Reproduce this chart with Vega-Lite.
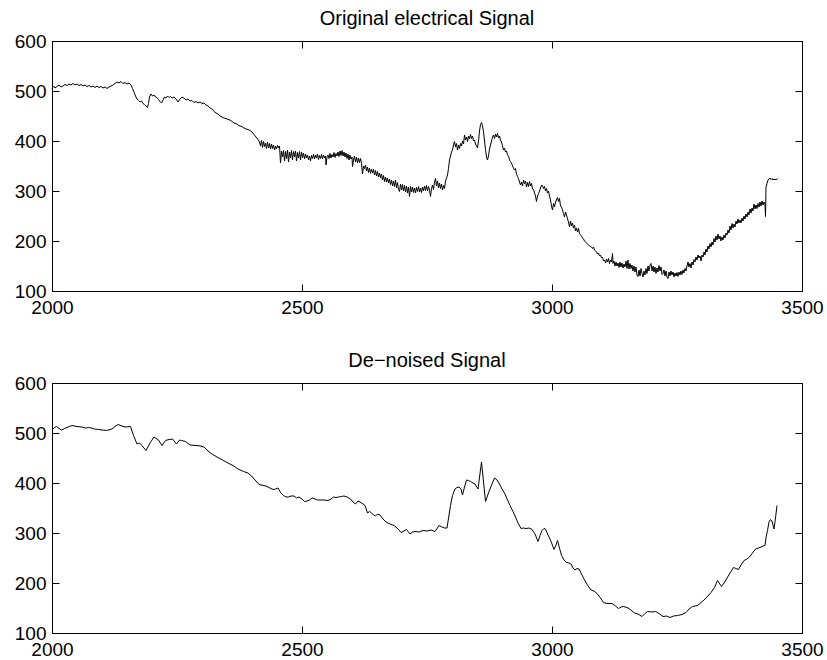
{
"$schema":"https://vega.github.io/schema/vega-lite/v6.json",
"background":"white",
"padding":{"left":13,"top":8,"right":10,"bottom":2},
"spacing":32,
"config":{
"view":{"stroke":"black","strokeWidth":1},
"font":"Liberation Sans",
"axis":{"domainColor":"black","tickColor":"black","labelColor":"black","labelFont":"Liberation Sans","labelFontSize":19,"tickSize":-7,"grid":false,"labelFlush":false,"labelOverlap":false,"title":null,"domainWidth":1,"tickWidth":1,"format":"d"},
"title":{"font":"Liberation Sans","fontSize":20,"fontWeight":"normal","color":"black","offset":3,"baseline":"alphabetic"}
},
"datasets":{
"orig":[
{"x":2000,"y":505},{"x":2003,"y":510},{"x":2006,"y":506},{"x":2010,"y":509},{"x":2014,"y":512},{"x":2018,"y":508},{"x":2022,"y":510},{"x":2026,"y":513},{"x":2030,"y":511},{"x":2034,"y":514},{"x":2038,"y":512},{"x":2042,"y":515},{"x":2046,"y":512},{"x":2050,"y":514},{"x":2054,"y":511},{"x":2058,"y":513},{"x":2062,"y":510},{"x":2066,"y":512},{"x":2070,"y":509},{"x":2074,"y":511},{"x":2078,"y":508},{"x":2082,"y":510},{"x":2086,"y":507},{"x":2090,"y":510},{"x":2094,"y":507},{"x":2098,"y":509},{"x":2102,"y":506},{"x":2106,"y":508},{"x":2110,"y":505},{"x":2114,"y":508},{"x":2118,"y":510},{"x":2122,"y":512},{"x":2126,"y":515},{"x":2130,"y":518},{"x":2134,"y":516},{"x":2138,"y":519},{"x":2142,"y":515},{"x":2146,"y":517},{"x":2150,"y":514},{"x":2154,"y":516},{"x":2158,"y":512},{"x":2161,"y":505},{"x":2164,"y":498},{"x":2167,"y":490},{"x":2170,"y":484},{"x":2173,"y":481},{"x":2176,"y":478},{"x":2179,"y":480},{"x":2182,"y":475},{"x":2185,"y":473},{"x":2188,"y":470},{"x":2191,"y":467},{"x":2193,"y":475},{"x":2195,"y":488},{"x":2198,"y":494},{"x":2201,"y":490},{"x":2204,"y":492},{"x":2207,"y":488},{"x":2210,"y":487},{"x":2213,"y":483},{"x":2216,"y":479},{"x":2219,"y":476},{"x":2222,"y":482},{"x":2225,"y":488},{"x":2228,"y":486},{"x":2231,"y":490},{"x":2234,"y":487},{"x":2237,"y":489},{"x":2240,"y":486},{"x":2244,"y":488},{"x":2248,"y":484},{"x":2252,"y":478},{"x":2256,"y":484},{"x":2260,"y":488},{"x":2264,"y":486},{"x":2268,"y":482},{"x":2272,"y":484},{"x":2276,"y":480},{"x":2280,"y":481},{"x":2284,"y":477},{"x":2288,"y":479},{"x":2292,"y":476},{"x":2296,"y":478},{"x":2300,"y":475},{"x":2304,"y":476},{"x":2308,"y":472},{"x":2312,"y":470},{"x":2316,"y":466},{"x":2320,"y":464},{"x":2324,"y":459},{"x":2328,"y":456},{"x":2332,"y":454},{"x":2336,"y":450},{"x":2340,"y":448},{"x":2344,"y":446},{"x":2348,"y":445},{"x":2352,"y":443},{"x":2356,"y":442},{"x":2360,"y":439},{"x":2364,"y":436},{"x":2368,"y":435},{"x":2372,"y":432},{"x":2376,"y":430},{"x":2380,"y":429},{"x":2384,"y":426},{"x":2388,"y":424},{"x":2392,"y":423},{"x":2396,"y":421},{"x":2400,"y":418},{"x":2404,"y":413},{"x":2408,"y":408},{"x":2412,"y":403},
{"x":2415,"y":398},{"x":2417,"y":390},{"x":2419,"y":401},{"x":2421,"y":387},{"x":2423,"y":399},{"x":2425,"y":389},{"x":2427,"y":396},{"x":2429,"y":385},{"x":2431,"y":398},{"x":2433,"y":386},{"x":2435,"y":395},{"x":2437,"y":384},{"x":2439,"y":394},{"x":2441,"y":385},{"x":2443,"y":392},{"x":2445,"y":382},{"x":2447,"y":390},{"x":2449,"y":384},{"x":2451,"y":391},{"x":2453,"y":386},{"x":2455,"y":390},{"x":2457,"y":356},{"x":2459,"y":380},{"x":2461,"y":368},{"x":2463,"y":381},{"x":2465,"y":360},{"x":2467,"y":379},{"x":2469,"y":365},{"x":2471,"y":382},{"x":2473,"y":358},{"x":2475,"y":378},{"x":2477,"y":366},{"x":2479,"y":381},{"x":2481,"y":362},{"x":2483,"y":379},{"x":2485,"y":368},{"x":2487,"y":380},{"x":2489,"y":360},{"x":2491,"y":377},{"x":2493,"y":366},{"x":2495,"y":379},{"x":2497,"y":362},{"x":2499,"y":378},{"x":2501,"y":367},{"x":2503,"y":376},{"x":2505,"y":364},
{"x":2507,"y":374},{"x":2509,"y":366},{"x":2511,"y":372},{"x":2513,"y":362},{"x":2515,"y":370},{"x":2517,"y":360},{"x":2519,"y":371},{"x":2521,"y":365},{"x":2523,"y":373},{"x":2525,"y":364},{"x":2527,"y":372},{"x":2529,"y":366},{"x":2531,"y":374},{"x":2533,"y":363},{"x":2535,"y":371},{"x":2537,"y":365},{"x":2539,"y":373},{"x":2541,"y":364},{"x":2543,"y":372},{"x":2545,"y":366},{"x":2547,"y":370},{"x":2548,"y":352},{"x":2550,"y":368},{"x":2552,"y":372},{"x":2554,"y":365},{"x":2556,"y":375},{"x":2558,"y":366},{"x":2560,"y":373},{"x":2562,"y":368},{"x":2564,"y":377},{"x":2566,"y":367},{"x":2568,"y":375},{"x":2570,"y":370},{"x":2572,"y":378},{"x":2574,"y":369},{"x":2576,"y":380},{"x":2578,"y":371},{"x":2580,"y":381},{"x":2582,"y":370},{"x":2584,"y":378},{"x":2586,"y":368},{"x":2588,"y":376},{"x":2590,"y":365},{"x":2592,"y":374},{"x":2594,"y":362},{"x":2596,"y":372},{"x":2598,"y":364},{"x":2600,"y":368},{"x":2601,"y":349},{"x":2603,"y":362},{"x":2605,"y":370},{"x":2607,"y":358},{"x":2609,"y":367},{"x":2611,"y":356},{"x":2613,"y":366},{"x":2615,"y":357},{"x":2617,"y":365},{"x":2619,"y":355},{"x":2621,"y":334},{"x":2623,"y":350},{"x":2625,"y":345},{"x":2627,"y":352},{"x":2629,"y":340},{"x":2631,"y":348},{"x":2633,"y":337},{"x":2635,"y":346},{"x":2637,"y":335},{"x":2639,"y":344},{"x":2641,"y":336},{"x":2643,"y":343},{"x":2645,"y":332},{"x":2647,"y":341},{"x":2649,"y":330},{"x":2651,"y":339},{"x":2653,"y":328},{"x":2655,"y":336},{"x":2657,"y":326},{"x":2659,"y":334},{"x":2661,"y":322},{"x":2663,"y":331},{"x":2665,"y":319},{"x":2667,"y":328},{"x":2669,"y":318},{"x":2671,"y":326},{"x":2673,"y":316},{"x":2675,"y":324},{"x":2677,"y":313},{"x":2679,"y":322},{"x":2681,"y":310},{"x":2683,"y":320},{"x":2685,"y":309},{"x":2687,"y":322},{"x":2689,"y":306},{"x":2691,"y":317},{"x":2693,"y":303},{"x":2695,"y":299},{"x":2697,"y":314},{"x":2699,"y":302},{"x":2701,"y":313},{"x":2703,"y":300},{"x":2705,"y":311},{"x":2707,"y":298},{"x":2709,"y":310},{"x":2711,"y":296},{"x":2713,"y":308},{"x":2715,"y":289},{"x":2717,"y":309},{"x":2719,"y":298},{"x":2721,"y":308},{"x":2723,"y":297},{"x":2725,"y":306},{"x":2727,"y":296},{"x":2729,"y":307},{"x":2731,"y":299},{"x":2733,"y":309},{"x":2735,"y":298},{"x":2737,"y":306},{"x":2739,"y":297},{"x":2741,"y":308},{"x":2743,"y":300},{"x":2745,"y":310},{"x":2747,"y":301},{"x":2749,"y":311},{"x":2751,"y":300},{"x":2753,"y":309},{"x":2755,"y":302},{"x":2757,"y":289},{"x":2759,"y":305},{"x":2761,"y":312},{"x":2763,"y":303},{"x":2765,"y":318},{"x":2767,"y":325},{"x":2769,"y":310},{"x":2771,"y":320},{"x":2773,"y":306},{"x":2775,"y":316},{"x":2777,"y":305},{"x":2779,"y":314},{"x":2781,"y":302},{"x":2783,"y":311},{"x":2785,"y":305},{"x":2787,"y":320},{"x":2789,"y":326},{"x":2791,"y":332},{"x":2793,"y":345},{"x":2795,"y":362},{"x":2797,"y":370},{"x":2799,"y":378},{"x":2801,"y":382},{"x":2803,"y":392},{"x":2805,"y":399},{"x":2807,"y":388},{"x":2809,"y":395},{"x":2811,"y":382},{"x":2813,"y":392},{"x":2815,"y":385},{"x":2817,"y":395},{"x":2819,"y":390},{"x":2821,"y":400},{"x":2823,"y":394},{"x":2825,"y":412},{"x":2827,"y":402},{"x":2829,"y":408},{"x":2831,"y":399},{"x":2833,"y":410},{"x":2835,"y":404},{"x":2837,"y":413},{"x":2839,"y":405},{"x":2841,"y":410},{"x":2843,"y":400},{"x":2845,"y":402},{"x":2847,"y":394},{"x":2849,"y":390},{"x":2851,"y":386},{"x":2853,"y":400},{"x":2855,"y":420},{"x":2857,"y":433},{"x":2859,"y":437},{"x":2861,"y":430},{"x":2863,"y":419},{"x":2865,"y":400},{"x":2867,"y":383},{"x":2869,"y":368},{"x":2871,"y":362},{"x":2873,"y":370},{"x":2875,"y":384},{"x":2877,"y":392},{"x":2879,"y":400},{"x":2881,"y":408},{"x":2883,"y":412},{"x":2885,"y":405},{"x":2887,"y":414},{"x":2889,"y":408},{"x":2891,"y":415},{"x":2893,"y":406},{"x":2895,"y":410},{"x":2897,"y":402},{"x":2899,"y":398},{"x":2901,"y":390},{"x":2903,"y":382},{"x":2905,"y":386},{"x":2907,"y":378},{"x":2909,"y":380},{"x":2911,"y":372},{"x":2913,"y":370},{"x":2915,"y":362},{"x":2917,"y":359},{"x":2919,"y":356},{"x":2921,"y":350},{"x":2923,"y":346},{"x":2925,"y":342},{"x":2927,"y":345},{"x":2929,"y":334},{"x":2931,"y":329},{"x":2933,"y":325},{"x":2935,"y":318},{"x":2937,"y":312},{"x":2939,"y":318},{"x":2941,"y":310},{"x":2943,"y":322},{"x":2945,"y":315},{"x":2947,"y":320},{"x":2949,"y":308},{"x":2951,"y":317},{"x":2953,"y":309},{"x":2955,"y":319},{"x":2957,"y":310},{"x":2959,"y":315},{"x":2961,"y":304},{"x":2963,"y":303},{"x":2965,"y":296},{"x":2967,"y":290},{"x":2969,"y":279},{"x":2971,"y":290},{"x":2973,"y":295},{"x":2975,"y":300},{"x":2977,"y":306},{"x":2979,"y":312},{"x":2981,"y":310},{"x":2983,"y":305},{"x":2985,"y":309},{"x":2987,"y":300},{"x":2989,"y":305},{"x":2991,"y":296},{"x":2993,"y":300},{"x":2995,"y":290},{"x":2997,"y":282},{"x":2999,"y":270},{"x":3001,"y":262},{"x":3003,"y":275},{"x":3005,"y":268},{"x":3007,"y":278},{"x":3009,"y":282},{"x":3011,"y":287},{"x":3013,"y":279},{"x":3015,"y":285},{"x":3017,"y":270},{"x":3019,"y":268},{"x":3021,"y":262},{"x":3023,"y":255},{"x":3025,"y":248},{"x":3027,"y":258},{"x":3029,"y":252},{"x":3031,"y":244},{"x":3033,"y":238},{"x":3035,"y":228},{"x":3037,"y":240},{"x":3039,"y":230},{"x":3041,"y":236},{"x":3043,"y":226},{"x":3045,"y":232},{"x":3047,"y":220},{"x":3049,"y":226},{"x":3051,"y":218},{"x":3053,"y":225},{"x":3055,"y":215},{"x":3057,"y":212},{"x":3059,"y":210},{"x":3061,"y":206},{"x":3063,"y":204},{"x":3065,"y":200},{"x":3067,"y":198},{"x":3069,"y":196},{"x":3071,"y":194},{"x":3073,"y":192},{"x":3075,"y":190},{"x":3078,"y":189},{"x":3081,"y":185},{"x":3083,"y":188},{"x":3085,"y":182},{"x":3087,"y":180},{"x":3089,"y":178},{"x":3091,"y":174},{"x":3093,"y":176},{"x":3095,"y":170},{"x":3097,"y":172},{"x":3099,"y":166},{"x":3101,"y":168},{"x":3103,"y":160},{"x":3105,"y":162},{"x":3107,"y":156},{"x":3109,"y":164},{"x":3111,"y":158},{"x":3113,"y":165},{"x":3115,"y":155},{"x":3117,"y":162},{"x":3119,"y":158},{"x":3121,"y":175},{"x":3122,"y":155},{"x":3124,"y":160},{"x":3126,"y":150},{"x":3128,"y":158},{"x":3130,"y":150},{"x":3132,"y":156},{"x":3134,"y":147},{"x":3136,"y":158},{"x":3138,"y":148},{"x":3140,"y":156},{"x":3142,"y":146},{"x":3144,"y":154},{"x":3146,"y":148},{"x":3148,"y":160},{"x":3150,"y":145},{"x":3152,"y":162},{"x":3154,"y":144},{"x":3156,"y":155},{"x":3158,"y":145},{"x":3160,"y":152},{"x":3162,"y":140},{"x":3164,"y":150},{"x":3166,"y":138},{"x":3168,"y":148},{"x":3170,"y":132},{"x":3172,"y":129},{"x":3174,"y":142},{"x":3176,"y":130},{"x":3178,"y":145},{"x":3180,"y":135},{"x":3182,"y":128},{"x":3184,"y":140},{"x":3186,"y":132},{"x":3188,"y":145},{"x":3190,"y":135},{"x":3192,"y":150},{"x":3194,"y":140},{"x":3196,"y":152},{"x":3198,"y":155},{"x":3200,"y":140},{"x":3202,"y":150},{"x":3204,"y":138},{"x":3206,"y":148},{"x":3208,"y":135},{"x":3210,"y":146},{"x":3212,"y":138},{"x":3214,"y":151},{"x":3216,"y":140},{"x":3218,"y":148},{"x":3220,"y":133},{"x":3222,"y":135},{"x":3224,"y":142},{"x":3226,"y":130},{"x":3228,"y":140},{"x":3230,"y":128},{"x":3232,"y":125},{"x":3234,"y":138},{"x":3236,"y":130},{"x":3238,"y":140},{"x":3240,"y":132},{"x":3242,"y":138},{"x":3244,"y":128},{"x":3246,"y":136},{"x":3248,"y":130},{"x":3250,"y":137},{"x":3252,"y":129},{"x":3254,"y":138},{"x":3256,"y":132},{"x":3258,"y":140},{"x":3260,"y":133},{"x":3262,"y":142},{"x":3264,"y":136},{"x":3266,"y":145},{"x":3268,"y":140},{"x":3270,"y":150},{"x":3272,"y":158},{"x":3274,"y":148},{"x":3276,"y":155},{"x":3278,"y":146},{"x":3280,"y":158},{"x":3282,"y":152},{"x":3284,"y":163},{"x":3286,"y":158},{"x":3288,"y":168},{"x":3290,"y":162},{"x":3292,"y":172},{"x":3294,"y":166},{"x":3296,"y":170},{"x":3298,"y":160},{"x":3300,"y":172},{"x":3302,"y":168},{"x":3304,"y":178},{"x":3306,"y":172},{"x":3308,"y":184},{"x":3310,"y":178},{"x":3312,"y":190},{"x":3314,"y":184},{"x":3316,"y":195},{"x":3318,"y":188},{"x":3320,"y":198},{"x":3322,"y":192},{"x":3324,"y":205},{"x":3326,"y":198},{"x":3328,"y":210},{"x":3330,"y":202},{"x":3332,"y":214},{"x":3334,"y":204},{"x":3336,"y":210},{"x":3338,"y":200},{"x":3340,"y":208},{"x":3342,"y":202},{"x":3344,"y":212},{"x":3346,"y":206},{"x":3348,"y":216},{"x":3350,"y":212},{"x":3352,"y":222},{"x":3354,"y":216},{"x":3356,"y":230},{"x":3358,"y":222},{"x":3360,"y":235},{"x":3362,"y":226},{"x":3364,"y":234},{"x":3366,"y":228},{"x":3368,"y":240},{"x":3370,"y":234},{"x":3372,"y":244},{"x":3374,"y":236},{"x":3376,"y":242},{"x":3378,"y":236},{"x":3380,"y":246},{"x":3382,"y":240},{"x":3384,"y":250},{"x":3386,"y":244},{"x":3388,"y":254},{"x":3390,"y":248},{"x":3392,"y":258},{"x":3394,"y":252},{"x":3396,"y":264},{"x":3398,"y":256},{"x":3400,"y":266},{"x":3402,"y":260},{"x":3404,"y":274},{"x":3406,"y":264},{"x":3408,"y":272},{"x":3410,"y":265},{"x":3412,"y":275},{"x":3414,"y":268},{"x":3416,"y":278},{"x":3418,"y":270},{"x":3420,"y":280},{"x":3422,"y":272},{"x":3424,"y":278},{"x":3426,"y":274},{"x":3427,"y":249},{"x":3428,"y":308},{"x":3430,"y":315},{"x":3432,"y":322},{"x":3434,"y":324},{"x":3436,"y":326},{"x":3438,"y":323},{"x":3440,"y":325},{"x":3442,"y":322},{"x":3444,"y":324},{"x":3446,"y":322},{"x":3448,"y":324},{"x":3450,"y":323},{"x":3452,"y":325}
],
"den":[
{"x":2000,"y":506},{"x":2005,"y":511},{"x":2009,"y":513},{"x":2014,"y":509},{"x":2019,"y":506},{"x":2025,"y":509},{"x":2032,"y":512},{"x":2040,"y":515},{"x":2050,"y":513},{"x":2060,"y":512},{"x":2067,"y":510},{"x":2075,"y":511},{"x":2085,"y":508},{"x":2093,"y":507},{"x":2100,"y":506},{"x":2109,"y":505},{"x":2120,"y":508},{"x":2126,"y":513},{"x":2132,"y":517},{"x":2140,"y":514},{"x":2146,"y":512},{"x":2157,"y":513},{"x":2163,"y":495},{"x":2170,"y":478},{"x":2175,"y":480},{"x":2178,"y":477},{"x":2188,"y":465},{"x":2196,"y":480},{"x":2204,"y":492},{"x":2213,"y":486},{"x":2220,"y":475},{"x":2227,"y":485},{"x":2234,"y":487},{"x":2241,"y":488},{"x":2249,"y":478},{"x":2255,"y":486},{"x":2259,"y":485},{"x":2267,"y":483},{"x":2276,"y":476},{"x":2288,"y":475},{"x":2298,"y":474},{"x":2304,"y":472},{"x":2312,"y":464},{"x":2320,"y":458},{"x":2330,"y":452},{"x":2341,"y":446},{"x":2352,"y":440},{"x":2362,"y":435},{"x":2372,"y":428},{"x":2383,"y":423},{"x":2392,"y":420},{"x":2399,"y":414},{"x":2406,"y":406},{"x":2413,"y":398},{"x":2418,"y":396},{"x":2424,"y":395},{"x":2430,"y":393},{"x":2436,"y":390},{"x":2442,"y":387},{"x":2447,"y":388},{"x":2452,"y":390},{"x":2458,"y":380},{"x":2463,"y":375},{"x":2468,"y":372},{"x":2473,"y":372},{"x":2478,"y":374},{"x":2484,"y":374},{"x":2489,"y":370},{"x":2494,"y":372},{"x":2500,"y":368},{"x":2505,"y":363},{"x":2510,"y":364},{"x":2515,"y":366},{"x":2520,"y":370},{"x":2526,"y":368},{"x":2531,"y":366},{"x":2536,"y":366},{"x":2544,"y":366},{"x":2552,"y":365},{"x":2558,"y":368},{"x":2563,"y":372},{"x":2568,"y":371},{"x":2573,"y":372},{"x":2579,"y":373},{"x":2584,"y":374},{"x":2590,"y":372},{"x":2597,"y":368},{"x":2602,"y":362},{"x":2607,"y":358},{"x":2612,"y":364},{"x":2616,"y":362},{"x":2622,"y":358},{"x":2626,"y":355},{"x":2631,"y":340},{"x":2635,"y":343},{"x":2639,"y":340},{"x":2643,"y":336},{"x":2647,"y":334},{"x":2651,"y":338},{"x":2656,"y":336},{"x":2662,"y":328},{"x":2668,"y":322},{"x":2676,"y":318},{"x":2684,"y":315},{"x":2690,"y":310},{"x":2694,"y":306},{"x":2698,"y":301},{"x":2704,"y":304},{"x":2709,"y":307},{"x":2716,"y":298},{"x":2721,"y":302},{"x":2726,"y":303},{"x":2734,"y":302},{"x":2742,"y":305},{"x":2750,"y":304},{"x":2758,"y":306},{"x":2766,"y":303},{"x":2774,"y":315},{"x":2780,"y":312},{"x":2785,"y":310},{"x":2790,"y":310},{"x":2797,"y":355},{"x":2801,"y":375},{"x":2806,"y":388},{"x":2810,"y":391},{"x":2814,"y":392},{"x":2818,"y":388},{"x":2821,"y":376},{"x":2825,"y":392},{"x":2829,"y":406},{"x":2833,"y":405},{"x":2837,"y":403},{"x":2842,"y":400},{"x":2846,"y":398},{"x":2852,"y":388},{"x":2859,"y":442},{"x":2867,"y":363},{"x":2874,"y":383},{"x":2880,"y":398},{"x":2885,"y":410},{"x":2890,"y":406},{"x":2895,"y":398},{"x":2900,"y":388},{"x":2906,"y":378},{"x":2911,"y":366},{"x":2916,"y":355},{"x":2922,"y":343},{"x":2927,"y":332},{"x":2932,"y":320},{"x":2938,"y":309},{"x":2943,"y":310},{"x":2948,"y":309},{"x":2954,"y":310},{"x":2959,"y":308},{"x":2966,"y":298},{"x":2972,"y":283},{"x":2976,"y":295},{"x":2980,"y":305},{"x":2984,"y":309},{"x":2987,"y":308},{"x":2992,"y":296},{"x":2996,"y":288},{"x":3000,"y":278},{"x":3004,"y":267},{"x":3008,"y":276},{"x":3011,"y":285},{"x":3015,"y":270},{"x":3019,"y":255},{"x":3024,"y":246},{"x":3029,"y":241},{"x":3034,"y":240},{"x":3038,"y":238},{"x":3042,"y":230},{"x":3046,"y":226},{"x":3050,"y":229},{"x":3054,"y":228},{"x":3059,"y":218},{"x":3064,"y":208},{"x":3071,"y":196},{"x":3078,"y":186},{"x":3084,"y":184},{"x":3091,"y":178},{"x":3097,"y":170},{"x":3103,"y":161},{"x":3110,"y":159},{"x":3120,"y":159},{"x":3127,"y":154},{"x":3133,"y":149},{"x":3138,"y":152},{"x":3143,"y":153},{"x":3150,"y":151},{"x":3154,"y":149},{"x":3160,"y":144},{"x":3165,"y":140},{"x":3172,"y":138},{"x":3180,"y":133},{"x":3186,"y":139},{"x":3191,"y":143},{"x":3200,"y":142},{"x":3207,"y":143},{"x":3214,"y":139},{"x":3222,"y":133},{"x":3229,"y":134},{"x":3236,"y":131},{"x":3243,"y":134},{"x":3251,"y":135},{"x":3260,"y":137},{"x":3268,"y":141},{"x":3274,"y":148},{"x":3281,"y":153},{"x":3291,"y":155},{"x":3298,"y":161},{"x":3304,"y":166},{"x":3311,"y":173},{"x":3318,"y":181},{"x":3325,"y":191},{"x":3331,"y":205},{"x":3339,"y":193},{"x":3344,"y":200},{"x":3349,"y":208},{"x":3356,"y":220},{"x":3363,"y":231},{"x":3368,"y":229},{"x":3373,"y":227},{"x":3378,"y":236},{"x":3384,"y":245},{"x":3390,"y":248},{"x":3395,"y":252},{"x":3401,"y":260},{"x":3407,"y":268},{"x":3413,"y":270},{"x":3418,"y":272},{"x":3422,"y":274},{"x":3426,"y":275},{"x":3427,"y":282},{"x":3428,"y":291},{"x":3431,"y":305},{"x":3434,"y":322},{"x":3437,"y":327},{"x":3440,"y":324},{"x":3444,"y":308},{"x":3447,"y":330},{"x":3450,"y":355}
]
},
"vconcat":[
{"title":"Original electrical Signal","width":750,"height":250,"data":{"name":"orig"},
"layer":[
{"mark":{"type":"line","color":"black","strokeWidth":1},
"encoding":{
"x":{"field":"x","type":"quantitative","scale":{"domain":[2000,3500],"nice":false,"zero":false},"axis":{"orient":"bottom","values":[2000,2500,3000,3500],"labelPadding":14}},
"y":{"field":"y","type":"quantitative","scale":{"domain":[100,600],"nice":false,"zero":false},"axis":{"orient":"left","values":[100,200,300,400,500,600],"labelPadding":13}}}},
{"mark":{"type":"line","strokeOpacity":0},
"encoding":{
"x":{"field":"x","type":"quantitative","axis":{"orient":"top","values":[2000,2500,3000,3500],"labels":false}},
"y":{"field":"y","type":"quantitative","axis":{"orient":"right","values":[100,200,300,400,500,600],"labels":false}}}}
],
"resolve":{"axis":{"x":"independent","y":"independent"}}},
{"title":"De−noised Signal","width":750,"height":250,"data":{"name":"den"},
"layer":[
{"mark":{"type":"line","color":"black","strokeWidth":1},
"encoding":{
"x":{"field":"x","type":"quantitative","scale":{"domain":[2000,3500],"nice":false,"zero":false},"axis":{"orient":"bottom","values":[2000,2500,3000,3500],"labelPadding":14}},
"y":{"field":"y","type":"quantitative","scale":{"domain":[100,600],"nice":false,"zero":false},"axis":{"orient":"left","values":[100,200,300,400,500,600],"labelPadding":13}}}},
{"mark":{"type":"line","strokeOpacity":0},
"encoding":{
"x":{"field":"x","type":"quantitative","axis":{"orient":"top","values":[2000,2500,3000,3500],"labels":false}},
"y":{"field":"y","type":"quantitative","axis":{"orient":"right","values":[100,200,300,400,500,600],"labels":false}}}}
],
"resolve":{"axis":{"x":"independent","y":"independent"}}}
]
}
